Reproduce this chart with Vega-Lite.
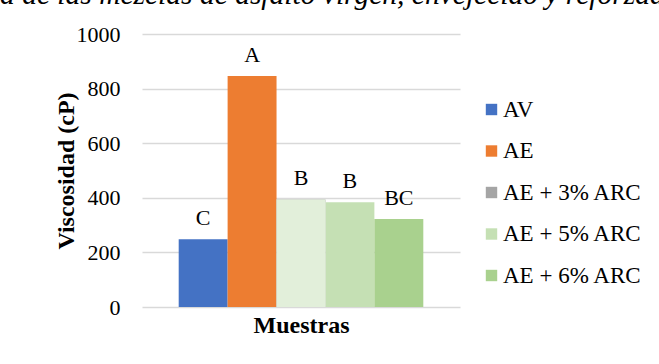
{
  "$schema": "https://vega.github.io/schema/vega-lite/v6.json",
  "width": 318,
  "height": 273,
  "autosize": "none",
  "padding": {"left": 142, "top": 34, "right": 199, "bottom": 57},
  "background": "white",
  "config": {"view": {"stroke": null}, "font": "Liberation Serif"},
  "title": {
    "text": "a de las mezclas de asfalto virgen, envejecido y reforzado",
    "anchor": "start",
    "frame": "group",
    "dx": -142,
    "dy": 10,
    "offset": 0,
    "baseline": "alphabetic",
    "font": "Liberation Serif",
    "fontStyle": "italic",
    "fontWeight": "normal",
    "fontSize": 29.5,
    "color": "#000000"
  },
  "data": {
    "values": [
      {"Muestra": "AV", "Viscosidad": 248, "Grupo": "C"},
      {"Muestra": "AE", "Viscosidad": 846, "Grupo": "A"},
      {"Muestra": "AE + 3% ARC", "Viscosidad": 394, "Grupo": "B"},
      {"Muestra": "AE + 5% ARC", "Viscosidad": 384, "Grupo": "B"},
      {"Muestra": "AE + 6% ARC", "Viscosidad": 322, "Grupo": "BC"}
    ]
  },
  "encoding": {
    "x": {
      "field": "Muestra",
      "type": "nominal",
      "sort": null,
      "scale": {"paddingInner": 0, "paddingOuter": 0.75},
      "axis": {
        "labels": false,
        "ticks": false,
        "domain": false,
        "title": "Muestras",
        "titleFont": "Liberation Serif",
        "titleFontSize": 24,
        "titleFontWeight": "bold",
        "titleColor": "#000000",
        "titlePadding": 6
      }
    },
    "y": {
      "field": "Viscosidad",
      "type": "quantitative",
      "scale": {"domain": [0, 1000]},
      "axis": {
        "values": [0, 200, 400, 600, 800, 1000],
        "format": "d",
        "grid": true,
        "gridColor": "#d9d9d9",
        "gridWidth": 1.5,
        "domain": false,
        "ticks": false,
        "labelPadding": 22,
        "labelFont": "Liberation Serif",
        "labelFontSize": 22,
        "labelColor": "#000000",
        "title": "Viscosidad (cP)",
        "titleFont": "Liberation Serif",
        "titleFontSize": 24,
        "titleFontWeight": "bold",
        "titleColor": "#000000",
        "titlePadding": -2
      }
    }
  },
  "layer": [
    {
      "mark": {"type": "bar"},
      "encoding": {
        "color": {
          "field": "Muestra",
          "type": "nominal",
          "sort": null,
          "scale": {
            "domain": ["AV", "AE", "AE + 3% ARC", "AE + 5% ARC", "AE + 6% ARC"],
            "range": ["#4472C4", "#ED7D31", "#A5A5A5", "#C5E0B4", "#A9D18E"]
          },
          "legend": {
            "title": null,
            "orient": "none",
            "legendX": 338,
            "legendY": 64,
            "symbolType": "square",
            "symbolSize": 130,
            "symbolStrokeWidth": 0,
            "labelFont": "Liberation Serif",
            "labelFontSize": 23,
            "labelColor": "#000000",
            "labelLimit": 300,
            "labelOffset": 0,
            "rowPadding": 17.5
          }
        }
      }
    },
    {
      "transform": [{"filter": "datum.Muestra === 'AE + 3% ARC'"}],
      "mark": {"type": "bar", "color": "#E2EFDA"}
    },
    {
      "mark": {"type": "text", "baseline": "alphabetic", "dy": -14, "font": "Liberation Serif", "fontSize": 22, "color": "#000000"},
      "encoding": {"text": {"field": "Grupo"}}
    }
  ]
}
